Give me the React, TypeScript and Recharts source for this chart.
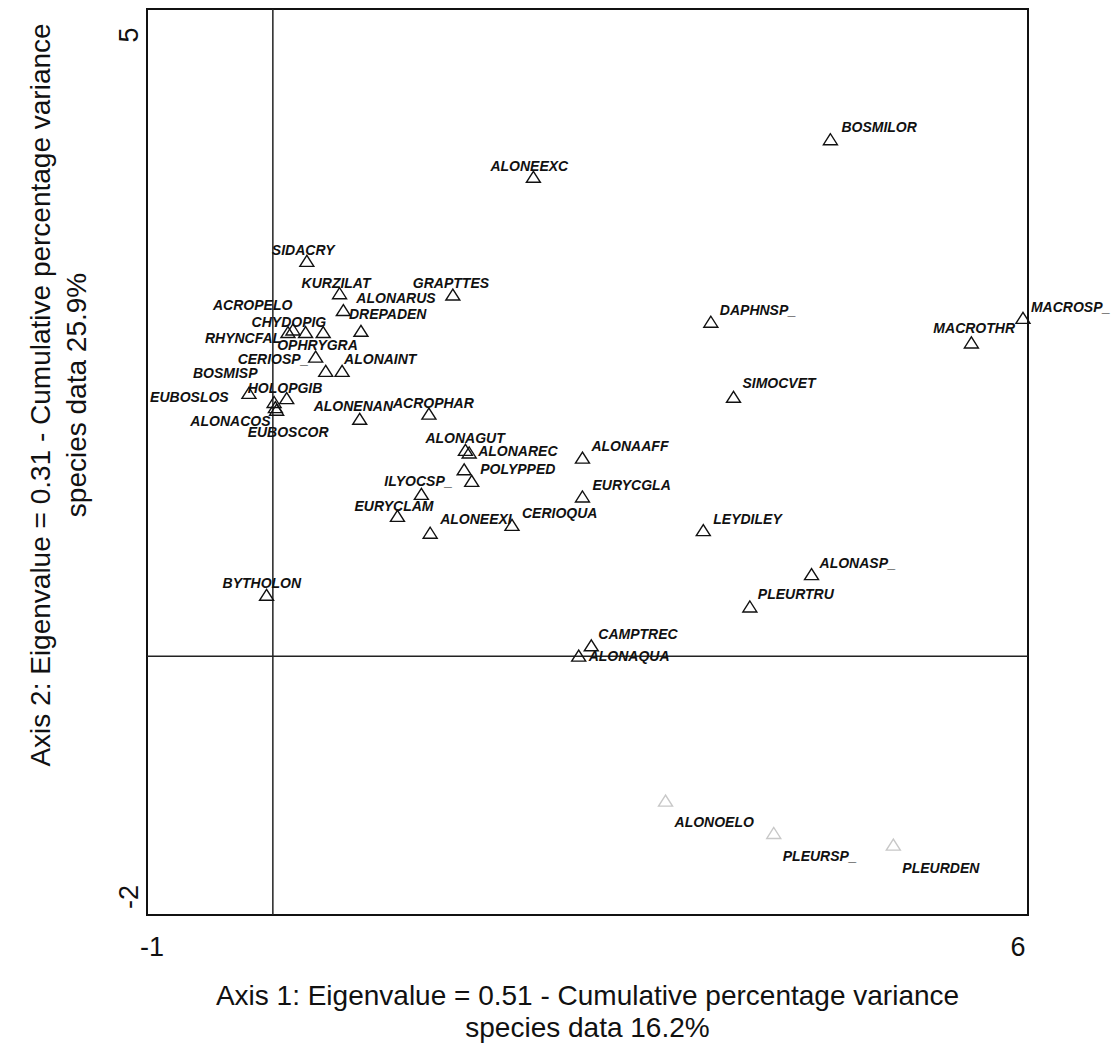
import React from "react";
import {
  ScatterChart,
  Scatter,
  XAxis,
  YAxis,
  ReferenceLine,
  ReferenceArea,
  Label,
} from "recharts";

// species scores
const speciesNames = [
  "BOSMILOR", "ALONEEXC", "SIDACRY", "KURZILAT", "GRAPTTES", "ALONARUS",
  "DREPADEN", "ACROPELO", "CHYDOPIG", "RHYNCFAL", "OPHRYGRA", "CERIOSP_",
  "ALONAINT", "BOSMISP", "HOLOPGIB", "EUBOSLOS", "ALONACOS", "EUBOSCOR",
  "ALONENAN", "ACROPHAR", "ALONAGUT", "ALONAREC", "POLYPPED", "ILYOCSP_",
  "EURYCLAM", "ALONEEXI", "CERIOQUA", "ALONAAFF", "EURYCGLA", "LEYDILEY",
  "BYTHOLON", "CAMPTREC", "ALONAQUA", "ALONASP_", "PLEURTRU", "SIMOCVET",
  "DAPHNSP_", "MACROTHR", "MACROSP_",
];
const axis1Scores = [
  4.43, 2.07, 0.27, 0.53, 1.43, 0.56,
  0.7, 0.16, 0.26, 0.12, 0.4, 0.34,
  0.55, -0.19, 0.11, 0.01, 0.02, 0.03,
  0.69, 1.24, 1.53, 1.56, 1.52, 1.18,
  0.99, 1.25, 1.9, 2.46, 2.46, 3.42,
  -0.05, 2.53, 2.43, 4.28, 3.79, 3.66,
  3.48, 5.55, 5.96,
];
const axis2Scores = [
  3.99, 3.7, 3.05, 2.8, 2.79, 2.67,
  2.51, 2.52, 2.5, 2.5, 2.5, 2.31,
  2.2, 2.03, 1.99, 1.96, 1.92, 1.9,
  1.83, 1.87, 1.59, 1.57, 1.44, 1.25,
  1.08, 0.95, 1.01, 1.53, 1.23, 0.97,
  0.47, 0.08, 0.0, 0.63, 0.38, 2.0,
  2.58, 2.42, 2.61,
];

// triangles printed without a name
const unnamedAxis1 = [0.42, 1.58];
const unnamedAxis2 = [2.2, 1.35];

// faint (greyed) species at the bottom
const faintNames = ["ALONOELO", "PLEURSP_", "PLEURDEN"];
const faintAxis1 = [3.12, 3.98, 4.93];
const faintAxis2 = [-1.12, -1.37, -1.46];

const xTicks = [-1, 6];
const yTicks = [-2, 5];

// label nudges in px relative to the marker (left edge, vertical centre)
const labelNudge: Record<string, [number, number]> = {
  BOSMILOR: [11, -13], ALONEEXC: [-43, -11], SIDACRY: [-35, -11],
  KURZILAT: [-38, -11], GRAPTTES: [-40, -12], ALONARUS: [13, -13],
  DREPADEN: [-12, -17], ACROPELO: [-80, -25], CHYDOPIG: [-54, -11],
  RHYNCFAL: [-83, 5], OPHRYGRA: [-46, 12], CERIOSP_: [-78, 2],
  ALONAINT: [2, -12], BOSMISP: [-56, -20], HOLOPGIB: [-39, -11],
  EUBOSLOS: [-124, -5], ALONACOS: [-85, 13], EUBOSCOR: [-29, 22],
  ALONENAN: [-46, -13], ACROPHAR: [-36, -11], ALONAGUT: [-40, -12],
  ALONAREC: [9, -2], POLYPPED: [16, -1], ILYOCSP_: [-37, -13],
  EURYCLAM: [-43, -10], ALONEEXI: [10, -14], CERIOQUA: [10, -12],
  ALONAAFF: [9, -12], EURYCGLA: [10, -12], LEYDILEY: [10, -12],
  BYTHOLON: [-44, -12], CAMPTREC: [7, -12], ALONAQUA: [10, 0],
  ALONASP_: [8, -12], PLEURTRU: [8, -13], SIMOCVET: [9, -14],
  DAPHNSP_: [9, -12], MACROTHR: [-38, -15], MACROSP_: [8, -11],
  ALONOELO: [9, 21], PLEURSP_: [9, 23], PLEURDEN: [9, 23],
};

const species = speciesNames.map((name, i) => ({
  name,
  x: axis1Scores[i],
  y: axis2Scores[i],
}));
const unnamed = unnamedAxis1.map((x, i) => ({ name: "", x, y: unnamedAxis2[i] }));
const faint = faintNames.map((name, i) => ({
  name,
  x: faintAxis1[i],
  y: faintAxis2[i],
}));

const FONT = "'Liberation Sans', Arial, Helvetica, sans-serif";

function makeTriangle(stroke: string) {
  return (props: any) => {
    const { cx, cy, payload } = props;
    if (cx == null || cy == null) return <g />;
    const nudge = labelNudge[payload.name] || [9, -12];
    return (
      <g>
        <path
          d={`M${cx},${cy - 6} L${cx - 7},${cy + 5} L${cx + 7},${cy + 5} Z`}
          fill="none"
          stroke={stroke}
          strokeWidth={1.4}
        />
        {payload.name && (
          <text
            x={cx + nudge[0]}
            y={cy + nudge[1] + 5}
            fontFamily={FONT}
            fontSize={14}
            fontWeight="bold"
            fontStyle="italic"
            fill="#111"
          >
            {payload.name}
          </text>
        )}
      </g>
    );
  };
}

function XTick(props: any) {
  const { x, y, payload } = props;
  const shift = payload.value === xTicks[0] ? 5 : -10;
  return (
    <text
      x={x + shift}
      y={y + 33}
      textAnchor="middle"
      fontFamily={FONT}
      fontSize={27}
      fill="#111"
    >
      {payload.value}
    </text>
  );
}

function YTick(props: any) {
  const { y, payload } = props;
  const cy = payload.value === yTicks[1] ? y + 26 : y - 18;
  return (
    <text
      x={138}
      y={cy}
      transform={`rotate(-90, 138, ${cy})`}
      textAnchor="middle"
      fontFamily={FONT}
      fontSize={27}
      fill="#111"
    >
      {payload.value}
    </text>
  );
}

function XTitle(props: any) {
  const { viewBox } = props;
  const cx = viewBox.x + viewBox.width / 2;
  return (
    <g fontFamily={FONT} fontSize={28} fill="#111">
      <text x={cx} y={viewBox.y + 90} textAnchor="middle">
        Axis 1: Eigenvalue = 0.51 - Cumulative percentage variance
      </text>
      <text x={cx} y={viewBox.y + 122} textAnchor="middle">
        species data 16.2%
      </text>
    </g>
  );
}

function YTitle() {
  const cy = 395;
  return (
    <g fontFamily={FONT} fontSize={28} fill="#111">
      <text x={50} y={cy} transform={`rotate(-90, 50, ${cy})`} textAnchor="middle">
        Axis 2: Eigenvalue = 0.31 - Cumulative percentage variance
      </text>
      <text x={86} y={cy} transform={`rotate(-90, 86, ${cy})`} textAnchor="middle">
        species data 25.9%
      </text>
    </g>
  );
}

export default function App() {
  return (
    <div style={{ position: "absolute", left: 0, top: 0, background: "#fff" }}>
      <ScatterChart
        width={1112}
        height={1045}
        margin={{ top: 9, right: 84, bottom: 0, left: 0 }}
      >
        <XAxis
          type="number"
          dataKey="x"
          domain={[-1, 6]}
          ticks={xTicks}
          height={130}
          axisLine={false}
          tickLine={false}
          tick={<XTick />}
          interval={0}
        >
          <Label content={<XTitle />} />
        </XAxis>
        <YAxis
          type="number"
          dataKey="y"
          domain={[-2, 5]}
          ticks={yTicks}
          width={147}
          axisLine={false}
          tickLine={false}
          tick={<YTick />}
          interval={0}
        >
          <Label content={<YTitle />} />
        </YAxis>
        <ReferenceArea
          x1={-1}
          x2={6}
          y1={-2}
          y2={5}
          fill="none"
          stroke="#111"
          strokeWidth={2}
          ifOverflow="visible"
        />
        <ReferenceLine x={0} stroke="#222" strokeWidth={1.5} />
        <ReferenceLine y={0} stroke="#222" strokeWidth={1.5} />
        <Scatter
          data={species}
          shape={makeTriangle("#111")}
          isAnimationActive={false}
        />
        <Scatter
          data={unnamed}
          shape={makeTriangle("#111")}
          isAnimationActive={false}
        />
        <Scatter
          data={faint}
          shape={makeTriangle("#c8c8c8")}
          isAnimationActive={false}
        />
      </ScatterChart>
    </div>
  );
}
